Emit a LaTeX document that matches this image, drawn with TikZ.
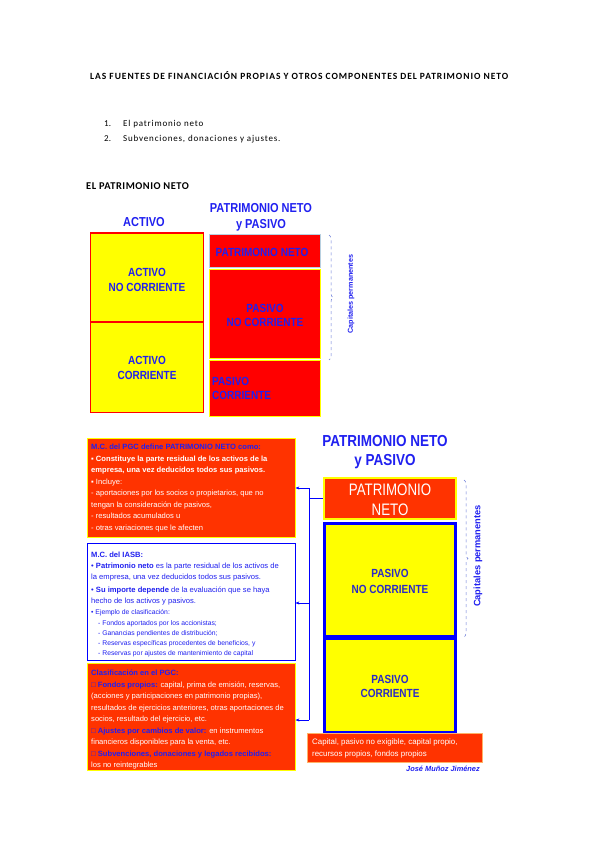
\documentclass[tikz,border=0pt]{standalone}
\usepackage{fontspec}
\usepackage{graphicx}
\setmainfont{Liberation Sans}
\newfontfamily\calfont{Carlito}
\newfontfamily\calsp[LetterSpace=10]{Carlito}
\newfontfamily\calsec[LetterSpace=5]{Carlito}
\newfontfamily\callist[LetterSpace=9]{Carlito}
\usetikzlibrary{arrows.meta,decorations.pathreplacing}
\definecolor{ored}{HTML}{FF3300}
\definecolor{tblue}{HTML}{2020F0}
\definecolor{dblue}{HTML}{2A2AC8}
\definecolor{lblue}{HTML}{B8D0E0}
\definecolor{bblue}{HTML}{0000FF}
\definecolor{ylw}{HTML}{FFFF00}
\definecolor{bracec}{HTML}{6A7AD8}
\newcommand\vs[1]{\scalebox{1}[1.18]{#1}}
\begin{document}
\begin{tikzpicture}[x=1pt,y=-1pt,
  t/.style={anchor=base west, inner sep=0pt, font=\fontsize{7.6}{8}\selectfont, text=white},
  tb/.style={t, text=tblue},
  ts/.style={t, text=tblue, font=\fontsize{6.8}{7}\selectfont},
  hd/.style={inner sep=0pt, align=center, text=tblue, font=\fontsize{11}{16}\selectfont\bfseries},
  yb/.style={draw=red, line width=1.5pt, fill=ylw, inner sep=0pt},
  rb/.style={fill=red, line width=1.5pt, inner sep=0pt},
  bl/.style={inner sep=0pt, text=tblue, font=\fontsize{10}{14.5}\selectfont\bfseries},
  ob/.style={fill=ored, draw=ylw, line width=0.8pt, inner sep=0pt},
  cn/.style={draw=bblue, line width=0.8pt},
  tip/.style={-{Stealth[length=4pt,width=3pt]}}
]
\useasboundingbox[fill=white] (0,0) rectangle (599,848);

% header texts
\node[anchor=base west, inner sep=0pt, font=\calsp\fontsize{9.5}{11}\selectfont\bfseries] (title) at (90,80) {LAS FUENTES DE FINANCIACIÓN PROPIAS Y OTROS COMPONENTES DEL PATRIMONIO NETO};
\node[anchor=base west, inner sep=0pt, font=\calfont\fontsize{9}{11}\selectfont] (n1) at (104,127) {1.};
\node[anchor=base west, inner sep=0pt, font=\callist\fontsize{9}{11}\selectfont] (i1) at (123,127) {El patrimonio neto};
\node[anchor=base west, inner sep=0pt, font=\calfont\fontsize{9}{11}\selectfont] (n2) at (104,142) {2.};
\node[anchor=base west, inner sep=0pt, font=\callist\fontsize{9}{11}\selectfont] (i2) at (123,142) {Subvenciones, donaciones y ajustes.};
\node[anchor=base west, inner sep=0pt, font=\calsec\fontsize{10.4}{12}\selectfont\bfseries] (sec) at (86,189) {EL PATRIMONIO NETO};

% first diagram
\node[hd] (hact) at (144,222) {\vs{ACTIVO}};
\node[hd] (hpn) at (261,217) {\vs{PATRIMONIO NETO}\\\vs{y PASIVO}};
\node[yb, minimum width=113, minimum height=89] (an1) at (147,277.5) {};
\node[yb, minimum width=113, minimum height=90] (ac1) at (147,367.5) {};
\node[bl, align=center] at (147,280) {\vs{ACTIVO}\\\vs{NO CORRIENTE}};
\node[bl, align=center] at (147,368) {\vs{ACTIVO}\\\vs{CORRIENTE}};
\node[rb, draw=lblue, minimum width=111, minimum height=33] (pn1) at (265,251) {};
\node[rb, draw=ylw, minimum width=111, minimum height=89] (pnc1) at (265,314) {};
\node[rb, draw=ylw, minimum width=111, minimum height=56] (pc1) at (265,388.5) {};
\node[bl] at (262,252) {\vs{PATRIMONIO NETO}};
\node[bl, align=center] at (265,315.5) {\vs{PASIVO}\\\vs{NO CORRIENTE}};
\node[bl, align=left, anchor=west] at (212,388.5) {\vs{PASIVO}\\\vs{CORRIENTE}};
\draw[bracec, line width=0.5pt, dashed, decorate, decoration={brace, amplitude=4pt}] (329,235) -- (329,360);
\node[rotate=90, inner sep=0pt, text=tblue, font=\fontsize{7.2}{8}\selectfont\bfseries] (cp1) at (351,294) {Capitales permanentes};

% right diagram
\node[inner sep=0pt, align=center, text=tblue, font=\fontsize{13.5}{19}\selectfont\bfseries] (hpn2) at (385,452.5) {\vs{PATRIMONIO NETO}\\\vs{y PASIVO}};
\node[fill=ored, draw=ylw, line width=2.5pt, minimum width=132, minimum height=41, inner sep=0pt] (pn2) at (390,498.5) {};
\node[inner sep=0pt, align=center, text=white, font=\fontsize{13.3}{20}\selectfont] at (390,500) {\scalebox{1}[1.25]{PATRIMONIO}\\\scalebox{1}[1.25]{NETO}};
\node[fill=ylw, draw=bblue, line width=3pt, minimum width=131, minimum height=113, inner sep=0pt] (pnc2) at (390,580) {};
\node[fill=ylw, draw=bblue, line width=3pt, minimum width=131, minimum height=94, inner sep=0pt] (pc2) at (390,685) {};
\node[bl, text=dblue, align=center, font=\fontsize{10}{16}\selectfont\bfseries] at (390,581) {\vs{PASIVO}\\\vs{NO CORRIENTE}};
\node[bl, text=dblue, align=center, font=\fontsize{10}{14}\selectfont\bfseries] at (390,686) {\vs{PASIVO}\\\vs{CORRIENTE}};
\node[fill=ored, draw=orange!60, line width=0.5pt, minimum width=175, minimum height=29, inner sep=0pt] (cap) at (394.5,747.5) {};
\node[t, font=\fontsize{7.9}{8}\selectfont] at (312,744.5) {Capital, pasivo no exigible, capital propio,};
\node[t, font=\fontsize{7.9}{8}\selectfont] at (312,756.5) {recursos propios, fondos propios};
\node[anchor=base east, inner sep=0pt, text=tblue, font=\fontsize{7.4}{8}\selectfont\bfseries\itshape] (auth) at (480,771.5) {José Muñoz Jiménez};
\draw[bracec, line width=0.5pt, dashed, decorate, decoration={brace, amplitude=4pt}] (464,480) -- (464,637);
\node[rotate=90, inner sep=0pt, text=tblue, font=\fontsize{9.3}{10}\selectfont\bfseries] (cp2) at (478,556) {Capitales permanentes};

% left boxes
\node[ob, minimum width=208, minimum height=99] (b1) at (191,487.5) {};
\node[fill=white, draw=bblue, line width=0.8pt, minimum width=208, minimum height=117, inner sep=0pt] (b2) at (191,601.5) {};
\node[ob, minimum width=208, minimum height=107] (b3) at (191,716.5) {};

\node[tb] at (91,449.5) {\bfseries M.C. del PGC define PATRIMONIO NETO como:};
\node[t] at (91,461) {\bfseries ▪ Constituye la parte residual de los activos de la};
\node[t] at (91,472.5) {\bfseries empresa, una vez deducidos todos sus pasivos.};
\node[t] at (91,484) {▪ Incluye:};
\node[t] at (91,495.5) {- aportaciones por los socios o propietarios, que no};
\node[t] at (91,507) {tengan la consideración de pasivos,};
\node[t] at (91,518.5) {- resultados acumulados u};
\node[t] at (91,530) {- otras variaciones que le afecten};

\node[tb] at (91,557.5) {\bfseries M.C. del IASB:};
\node[tb] at (91,568.5) {• \textbf{Patrimonio neto} es la parte residual de los activos de};
\node[tb] at (91,579) {la empresa, una vez deducidos todos sus pasivos.};
\node[tb] at (91,592.5) {• \textbf{Su importe depende} de la evaluación que se haya};
\node[tb] at (91,603.5) {hecho de los activos y pasivos.};
\node[ts] at (91,614) {• Ejemplo de clasificación:};
\node[ts] at (98,625) {- Fondos aportados por los accionistas;};
\node[ts] at (98,635) {- Ganancias pendientes de distribución;};
\node[ts] at (98,645) {- Reservas específicas procedentes de beneficios, y};
\node[ts] at (98,655) {- Reservas por ajustes de mantenimiento de capital};

\node[tb] at (91,675.5) {\bfseries Clasificación en el PGC:};
\node[t] at (91,687) {\textcolor{tblue}{\bfseries □ Fondos propios:} capital, prima de emisión, reservas,};
\node[t] at (91,698.5) {(acciones y participaciones en patrimonio propias),};
\node[t] at (91,710) {resultados de ejercicios anteriores, otras aportaciones de};
\node[t] at (91,721.5) {socios, resultado del ejercicio, etc.};
\node[t] at (91,733) {\textcolor{tblue}{\bfseries □ Ajustes por cambios de valor:} en instrumentos};
\node[t] at (91,744.5) {financieros disponibles para la venta, etc.};
\node[t] at (91,756) {\textcolor{tblue}{\bfseries □ Subvenciones, donaciones y legados recibidos:}};
\node[t] at (91,767.5) {los no reintegrables};

% connectors
\coordinate (j1) at (309,488);
\coordinate (j2) at (309,603);
\coordinate (j3) at (309,720);
\draw[cn] (pn2.west) -- (pn2.west -| j1);
\draw[cn] (j1) -- (j3);
\draw[cn, tip] (j1) -- (j1 -| b1.east);
\draw[cn, tip] (j2) -- (j2 -| b2.east);
\draw[cn, tip] (j3) -- (j3 -| b3.east);
\end{tikzpicture}
\end{document}
